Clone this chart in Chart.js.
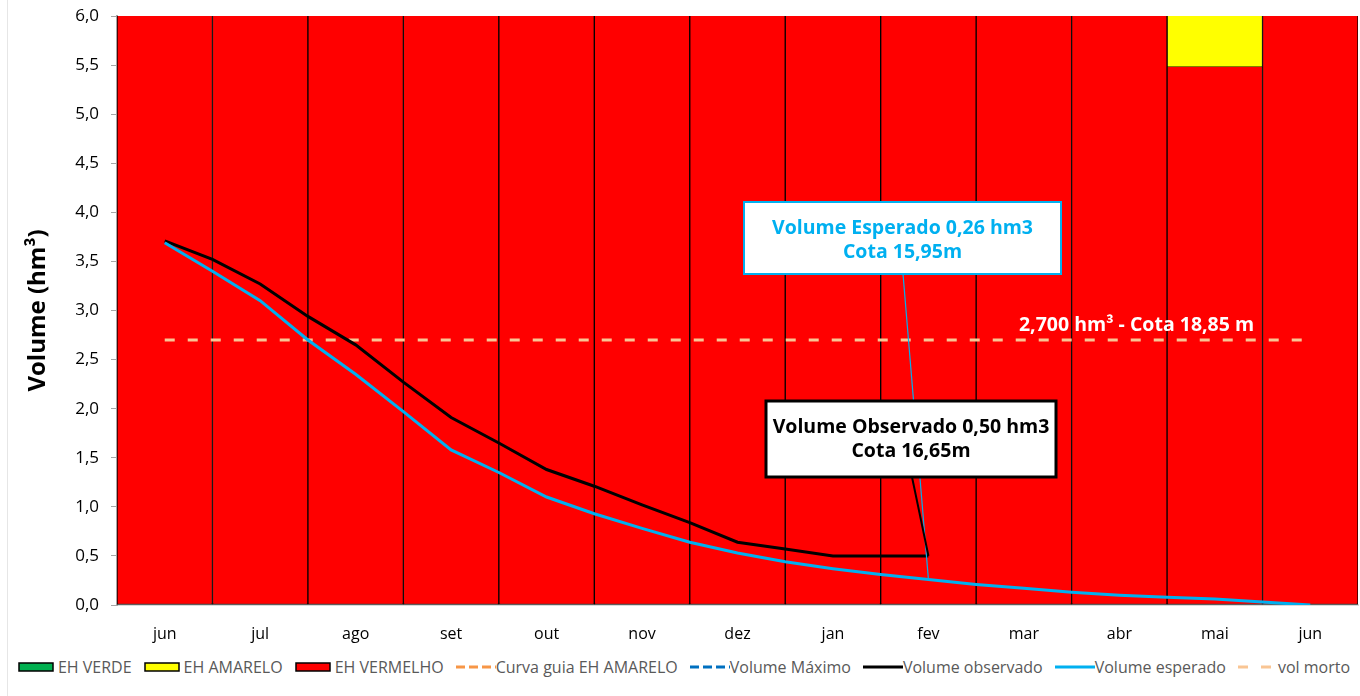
<!DOCTYPE html>
<html>
<head>
<meta charset="utf-8">
<script src="https://cdn.jsdelivr.net/npm/chart.js@4.4.1/dist/chart.umd.min.js"></script>
<style>
    html, body { margin: 0; padding: 0; background: #fff; }
    #wrap { position: relative; width: 1360px; height: 696px; overflow: hidden; }
    #wrap:before { content: ""; position: absolute; left: 7px; top: 0; bottom: 0; border-left: 1px solid #e6e6e6; }
    #c { position: absolute; left: 0; top: 0; }
    #legend { position: absolute; left: 4px; top: 656px; width: 1360px; }
    #legend ul { list-style: none; margin: 0; padding: 0; display: flex; justify-content: center; gap: 12px; }
    #legend li { display: flex; align-items: center; font: 16px "Open Sans", sans-serif; color: #595959; white-space: nowrap; }
</style>
</head>
<body>
<div id="wrap">
    <canvas id="c" width="1360" height="650"></canvas>
    <div id="legend"><ul></ul></div>
</div>
<script>
// categorias (meses)
const meses = ["jun", "jul", "ago", "set", "out", "nov", "dez", "jan", "fev", "mar", "abr", "mai", "jun"];

// faixas da curva guia (hm3)
const ehVermelho = [6.0, 6.0, 6.0, 6.0, 6.0, 6.0, 6.0, 6.0, 6.0, 6.0, 6.0, 5.48, 6.0];
const ehAmarelo = [null, null, null, null, null, null, null, null, null, null, null, 0.52, null];
const ehVerde = [null, null, null, null, null, null, null, null, null, null, null, null, null];

// tempo em meses desde jun (passos de meio mes)
const tempoObs = [0, 0.5, 1, 1.5, 2, 2.5, 3, 3.5, 4, 4.5, 5, 5.5, 6, 6.5, 7, 7.5, 8];
const volObservado = [3.71, 3.52, 3.27, 2.94, 2.65, 2.27, 1.91, 1.65, 1.38, 1.21, 1.02, 0.84, 0.64, 0.57, 0.50, 0.50, 0.50];

const tempoEsp = [0, 0.5, 1, 1.5, 2, 2.5, 3, 3.5, 4, 4.5, 5, 5.5, 6, 6.5, 7, 7.5, 8, 8.5, 9, 9.5, 10, 10.5, 11, 11.5, 12];
const volEsperado = [3.69, 3.40, 3.10, 2.70, 2.35, 1.97, 1.58, 1.35, 1.10, 0.93, 0.78, 0.64, 0.53, 0.44, 0.37, 0.31, 0.26, 0.21, 0.17, 0.13, 0.10, 0.08, 0.06, 0.03, 0.0];

const tempoMorto = [0, 12];
const volMorto = [2.7, 2.7];
const curvaGuia = [];
const volMaximo = [];

const legendOrder = ["EH VERDE", "EH AMARELO", "EH VERMELHO", "Curva guia EH AMARELO", "Volume Máximo", "Volume observado", "Volume esperado", "vol morto"];

const pts = (xs, ys) => xs.map((x, i) => ({ x, y: ys[i] }));
const fmt = (v) => v.toFixed(1).replace(".", ",");

const calloutPlugin = {
    id: "callouts",
    afterDatasetsDraw(c) {
        const ctx = c.ctx;
        const xs = c.scales.x2;
        const ys = c.scales.y;
        ctx.save();
        // vol morto label
        ctx.font = 'bold 19.5px "Open Sans"';
        ctx.fillStyle = "#fff";
        ctx.textAlign = "center";
        ctx.textBaseline = "middle";
        ctx.fillText("2,700 hm³ - Cota 18,85 m", xs.getPixelForValue(10.18), ys.getPixelForValue(volMorto[0]) - 15);

        const boxes = [
            { rect: [744, 202, 317, 72], from: [903, 274], color: "#00B0F0", lw: 2, leadW: 1.2,
              to: [xs.getPixelForValue(tempoEsp[16]), ys.getPixelForValue(volEsperado[16])],
              text: ["Volume Esperado 0,26 hm3", "Cota 15,95m"] },
            { rect: [766, 401, 290, 76], from: [912, 477], color: "#000", lw: 3, leadW: 2,
              to: [xs.getPixelForValue(tempoObs[16]), ys.getPixelForValue(volObservado[16])],
              text: ["Volume Observado 0,50 hm3", "Cota 16,65m"] },
        ];
        boxes.forEach((b) => {
            ctx.beginPath();
            ctx.strokeStyle = b.color;
            ctx.lineWidth = b.leadW;
            ctx.moveTo(b.from[0], b.from[1]);
            ctx.lineTo(b.to[0], b.to[1]);
            ctx.stroke();
            const [x, y, w, h] = b.rect;
            ctx.fillStyle = "#fff";
            ctx.fillRect(x, y, w, h);
            ctx.lineWidth = b.lw;
            ctx.strokeRect(x, y, w, h);
            ctx.fillStyle = b.color;
            ctx.font = 'bold 19.5px "Open Sans"';
            ctx.fillText(b.text[0], x + w / 2, y + 26);
            ctx.fillText(b.text[1], x + w / 2, y + 50);
        });
        ctx.restore();
    },
};

const htmlLegend = {
    id: "htmlLegend",
    afterUpdate(c) {
        const ul = document.querySelector("#legend ul");
        while (ul.firstChild) ul.firstChild.remove();
        legendOrder.forEach((name) => {
            const ds = c.data.datasets.find((d) => d.label === name);
            const li = document.createElement("li");
            const svgNS = "http://www.w3.org/2000/svg";
            const svg = document.createElementNS(svgNS, "svg");
            svg.setAttribute("width", "40");
            svg.setAttribute("height", "10");
            if (ds.type === "bar") {
                const r = document.createElementNS(svgNS, "rect");
                r.setAttribute("x", "1");
                r.setAttribute("y", "1");
                r.setAttribute("width", "34");
                r.setAttribute("height", "8");
                r.setAttribute("fill", ds.backgroundColor);
                r.setAttribute("stroke", "#000");
                r.setAttribute("stroke-width", "1.5");
                svg.appendChild(r);
            } else {
                const l = document.createElementNS(svgNS, "line");
                l.setAttribute("x1", "0");
                l.setAttribute("x2", "40");
                l.setAttribute("y1", "5");
                l.setAttribute("y2", "5");
                l.setAttribute("stroke", ds.borderColor);
                l.setAttribute("stroke-width", "3");
                if (ds.borderDash) l.setAttribute("stroke-dasharray", ds.borderDash.join(" "));
                svg.appendChild(l);
            }
            li.appendChild(svg);
            li.appendChild(document.createTextNode(name));
            ul.appendChild(li);
        });
    },
};

const lineBase = { type: "line", xAxisID: "x2", borderWidth: 3, pointRadius: 0, tension: 0, order: 0 };
const barBase = { type: "bar", stack: "faixas", grouped: false, borderColor: "#000", borderWidth: 1, clip: 0, order: 1 };

new Chart(document.getElementById("c"), {
    type: "bar",
    data: {
        labels: meses,
        datasets: [
            { ...lineBase, label: "Volume esperado", stack: "esp", data: pts(tempoEsp, volEsperado), borderColor: "#00B0F0" },
            { ...lineBase, label: "Volume observado", stack: "obs", data: pts(tempoObs, volObservado), borderColor: "#000" },
            { ...lineBase, label: "vol morto", stack: "morto", data: pts(tempoMorto, volMorto), borderColor: "#F9C594", borderDash: [10, 13] },
            { ...lineBase, label: "Curva guia EH AMARELO", stack: "guia", data: curvaGuia, borderColor: "#F79646", borderDash: [9, 4] },
            { ...lineBase, label: "Volume Máximo", stack: "max", data: volMaximo, borderColor: "#0070C0", borderDash: [9, 4] },
            { ...barBase, label: "EH VERMELHO", data: ehVermelho, backgroundColor: "#FF0000", borderSkipped: "end" },
            { ...barBase, label: "EH AMARELO", data: ehAmarelo, backgroundColor: "#FFFF00", borderSkipped: "end" },
            { ...barBase, label: "EH VERDE", data: ehVerde, backgroundColor: "#00B050" },
        ],
    },
    options: {
        responsive: false,
        animation: false,
        layout: { autoPadding: false, padding: { top: 16, right: 2, left: 0, bottom: 0 } },
        datasets: { bar: { barPercentage: 1, categoryPercentage: 1 } },
        plugins: { legend: { display: false }, tooltip: { enabled: false } },
        scales: {
            x: {
                type: "category",
                stacked: true,
                z: 1,
                grid: { display: false },
                border: { color: "#D9D9D9", width: 2 },
                ticks: { color: "#000", font: { family: "Open Sans", size: 16 }, padding: 12 },
                afterFit: (s) => { s.height = 45; s.paddingLeft = 0; s.paddingRight = 0; },
            },
            x2: { type: "linear", display: false, offset: false, min: -0.5, max: 12.5 },
            y: {
                stacked: true,
                min: 0,
                max: 6,
                z: 1,
                grid: { drawOnChartArea: false, color: "#A6A6A6", tickLength: 6 },
                border: { color: "#A6A6A6", width: 2 },
                ticks: { stepSize: 0.5, color: "#000", font: { family: "Open Sans", size: 17 }, padding: 12, callback: (v) => fmt(v) },
                title: { display: true, text: "Volume (hm³)", color: "#000", font: { family: "Open Sans", size: 24, weight: "bold" }, padding: { top: 24, bottom: 0 } },
                afterFit: (s) => { s.width = 117; s.paddingTop = 0; s.paddingBottom = 0; },
            },
        },
    },
    plugins: [calloutPlugin, htmlLegend],
});
</script>
</body>
</html>
